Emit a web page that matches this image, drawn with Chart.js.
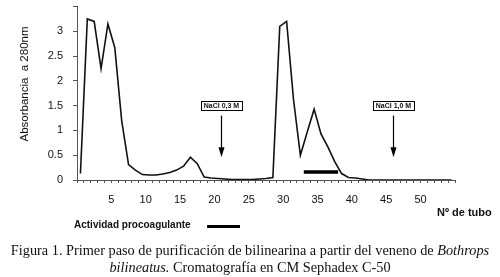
<!DOCTYPE html>
<html>
<head>
<meta charset="utf-8">
<script src="https://cdn.jsdelivr.net/npm/chart.js@4/dist/chart.umd.min.js"></script>
<style>
    body { margin: 0; background: #fff; }
    #wrap { position: relative; width: 500px; height: 277px; overflow: hidden; }
    #chart-box { position: absolute; left: 0; top: -10px; width: 500px; height: 250px; }
    .lbl { position: absolute; font-family: "Liberation Sans", Arial, sans-serif; font-weight: bold; color: #111; white-space: nowrap; }
    #caption { position: absolute; left: 0; top: 242px; width: 500px; text-align: center;
        font-family: "Liberation Serif", "Times New Roman", serif; font-size: 14.3px; line-height: 17px; color: #111; }
    #legend-line { position: absolute; left: 207px; top: 225px; width: 33px; height: 3px; background: #000; }
</style>
</head>
<body>
<div id="wrap">
    <div id="chart-box"><canvas id="fraction-chart" width="500" height="250"></canvas></div>
    <div class="lbl" style="left:437px; top:206px; font-size:11px;">Nº de tubo</div>
    <div class="lbl" style="left:74px; top:219px; font-size:10px;">Actividad procoagulante</div>
    <div id="legend-line"></div>
    <div id="caption">Figura 1. Primer paso de purificación de bilinearina a partir del veneno de <i>Bothrops</i><br><i>bilineatus.</i> Cromatografía en CM Sephadex C-50</div>
</div>
<script>
// tube numbers and absorbance
const tubes = ['1','2','3','4','5','6','7','8','9','10','11','12','13','14','15','16','17','18','19','20',
    '21','22','23','24','25','26','27','28','29','30','31','32','33','34','35','36','37','38','39','40',
    '41','42','43','44','45','46','47','48','49','50','51','52','53','54','55'];
const absorbance = [0.13, 3.25, 3.2, 2.25, 3.15, 2.67, 1.2, 0.31, 0.2, 0.11,
    0.1, 0.1, 0.12, 0.15, 0.2, 0.28, 0.46, 0.33, 0.06, 0.04,
    0.03, 0.02, 0.01, 0.01, 0.01, 0.01, 0.02, 0.03, 0.05, 3.1,
    3.2, 1.63, 0.5, 0.97, 1.43, 0.93, 0.67, 0.37, 0.13, 0.05,
    0.04, 0.02, 0, 0, 0, 0, 0, 0, 0, 0,
    0, 0, 0, 0, 0];
const yTicks = [0, 0.5, 1, 1.5, 2, 2.5, 3];

// salt steps (arrows) and procoagulant fractions
const saltLabels = ['NaCl 0,3 M', 'NaCl 1,0 M'];
const saltTubes = [21, 46];
const activityFrom = 33;
const activityTo = 38;
const activityLevel = 0.16;

const annotations = {
    id: 'annotations',
    afterDatasetsDraw(chart) {
        const ctx = chart.ctx;
        const x = chart.scales.x;
        const y = chart.scales.y;
        // tube position measured from the tick boundary, not the slot centre
        const px = t => x.getPixelForValue(t - 0.5);

        ctx.save();
        // activity bar
        ctx.strokeStyle = '#000';
        ctx.lineWidth = 3.5;
        ctx.beginPath();
        ctx.moveTo(px(activityFrom), y.getPixelForValue(activityLevel));
        ctx.lineTo(px(activityTo), y.getPixelForValue(activityLevel));
        ctx.stroke();

        // salt arrows
        saltLabels.forEach((label, i) => {
            const ax = Math.round(px(saltTubes[i])) + 0.5;
            const top = y.getPixelForValue(1.3);
            const tip = y.getPixelForValue(0.46);
            ctx.lineWidth = 1.2;
            ctx.beginPath();
            ctx.moveTo(ax, top);
            ctx.lineTo(ax, tip - 8);
            ctx.stroke();
            ctx.fillStyle = '#000';
            ctx.beginPath();
            ctx.moveTo(ax - 3, tip - 10);
            ctx.lineTo(ax + 3, tip - 10);
            ctx.lineTo(ax, tip);
            ctx.closePath();
            ctx.fill();

            ctx.font = 'bold 7px "Liberation Sans Narrow", "Liberation Sans", Arial';
            const w = ctx.measureText(label).width + 6;
            const by = y.getPixelForValue(1.6);
            ctx.fillStyle = '#fff';
            ctx.fillRect(ax - w / 2, by, w, 9);
            ctx.lineWidth = 1;
            ctx.strokeRect(Math.round(ax - w / 2) + 0.5, Math.round(by) + 0.5, Math.round(w), 9);
            ctx.fillStyle = '#111';
            ctx.textAlign = 'center';
            ctx.textBaseline = 'middle';
            ctx.fillText(label, ax, by + 5);
        });

        // y axis title
        ctx.translate(25, 94);
        ctx.rotate(-Math.PI / 2);
        ctx.font = '11.5px "Liberation Sans", Arial';
        ctx.fillStyle = '#111';
        ctx.textAlign = 'center';
        ctx.textBaseline = 'middle';
        ctx.fillText('Absorbancia  a 280nm', 0, 0);
        ctx.restore();
    }
};

const chart = new Chart(document.getElementById('fraction-chart').getContext('2d'), {
    type: 'line',
    data: {
        labels: tubes,
        datasets: [{
            label: 'Absorbancia a 280nm',
            data: absorbance,
            borderColor: '#111',
            borderWidth: 1.6,
            pointRadius: 0,
            tension: 0,
            fill: false,
        }]
    },
    options: {
        responsive: false,
        animation: false,
        layout: { padding: { left: 0, right: 45, top: 5, bottom: 0 } },
        plugins: { legend: { display: false }, tooltip: { enabled: false } },
        scales: {
            x: {
                type: 'category',
                offset: true,
                grid: { offset: true, drawOnChartArea: false, tickLength: 3, color: '#555' },
                border: { color: '#555', width: 1 },
                ticks: {
                    autoSkip: false,
                    maxRotation: 0,
                    labelOffset: 3.4,
                    padding: 10,
                    color: '#111',
                    font: { family: '"Liberation Sans", Arial', size: 11 },
                    callback: (v, i) => ((i + 1) % 5 === 0 && i < 54) ? tubes[i] : ''
                },
                afterFit: s => { s.height = 60; }
            },
            y: {
                min: 0,
                max: 3.5,
                grid: { drawOnChartArea: false, tickLength: 4, color: '#555' },
                border: { color: '#555', width: 1 },
                ticks: {
                    stepSize: 0.5,
                    padding: 10,
                    color: '#111',
                    font: { family: '"Liberation Sans", Arial', size: 11 },
                    callback: v => yTicks.includes(v) ? String(v) : ''
                },
                afterFit: s => { s.width = 77; }
            }
        }
    },
    plugins: [annotations]
});
</script>
</body>
</html>
